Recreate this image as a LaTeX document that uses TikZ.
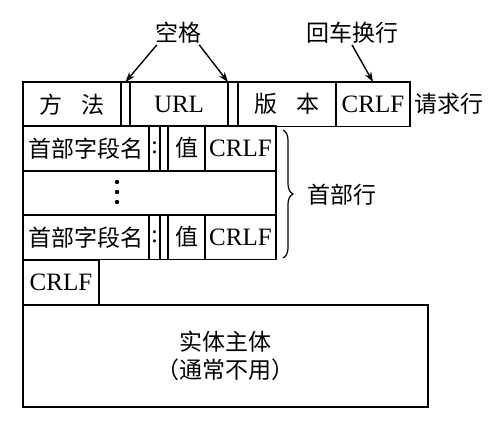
\documentclass[tikz,border=0pt]{standalone}
\usepackage{fontspec}
\setmainfont{Liberation Serif}
\newfontfamily\cjk{Noto Sans CJK SC}
\usetikzlibrary{arrows.meta,decorations.pathreplacing}
\tikzset{
  cell/.style={draw, line width=1.4pt, anchor=north west, inner sep=0pt, outer sep=0pt,
    minimum width=#1pt, minimum height=44.5pt},
  cn/.style={font=\cjk\fontsize{23}{28}\selectfont, inner sep=1pt},
  pointer/.style={-{Stealth[length=10pt,width=7pt]}, line width=1.4pt},
}
\begin{document}
\begin{tikzpicture}[x=1pt, y=-1pt, font=\fontsize{25}{30}\selectfont]
\useasboundingbox (0,0) rectangle (493,430);
% request line
\node[cell=98, cn] (method) at (23,82) {方\hspace{0.8em}法};
\node[cell=9] (sp1) at (121,82) {};
\node[cell=98] (url) at (130,82) {URL};
\node[cell=10] (sp2) at (228,82) {};
\node[cell=98, cn] (version) at (238,82) {版\hspace{0.8em}本};
\node[cell=74] (crlf req) at (336,82) {CRLF};
\node[cn, anchor=west] (req label) at (413,104) {请求行};

% header lines
\foreach \row/\y in {1/126, 2/215} {
  \node[cell=126, cn] (name \row) at (23,\y) {首部字段名};
  \node[cell=11] (colon \row) at (149,\y) {:};
  \node[cell=8] (sp3 \row) at (160,\y) {};
  \node[cell=37, cn] (value \row) at (168,\y) {值};
  \node[cell=71] (crlf \row) at (205,\y) {CRLF};
}
\node[cell=253, minimum height=44pt] (dots row) at (23,171) {};
\foreach \y in {182,192,202}
  \fill (117,\y) circle (2.2pt);

% brace
\coordinate (brace top) at (283,130);
\coordinate (brace bot) at (283,258);
\draw[decorate, decoration={brace, amplitude=10pt}, line width=1.2pt] (brace top) -- (brace bot);
\node[cn] (header label) at (342,195) {首部行};

% empty line and body
\node[cell=76] (crlf end) at (23,260) {CRLF};
\node[cell=405, minimum height=102pt, cn, align=center] (body) at (23,305) {实体主体\\（通常不用）};

% labels on top
\node[cn] (space label) at (178,33) {空格};
\node[cn] (crlf label) at (352,33) {回车换行};
\draw[pointer] ([xshift=3pt]space label.south west) -- (sp1.north);
\draw[pointer] ([xshift=-3pt]space label.south east) -- (sp2.north west);
\draw[pointer] (crlf label.south) -- (crlf req.north);
\end{tikzpicture}
\end{document}
